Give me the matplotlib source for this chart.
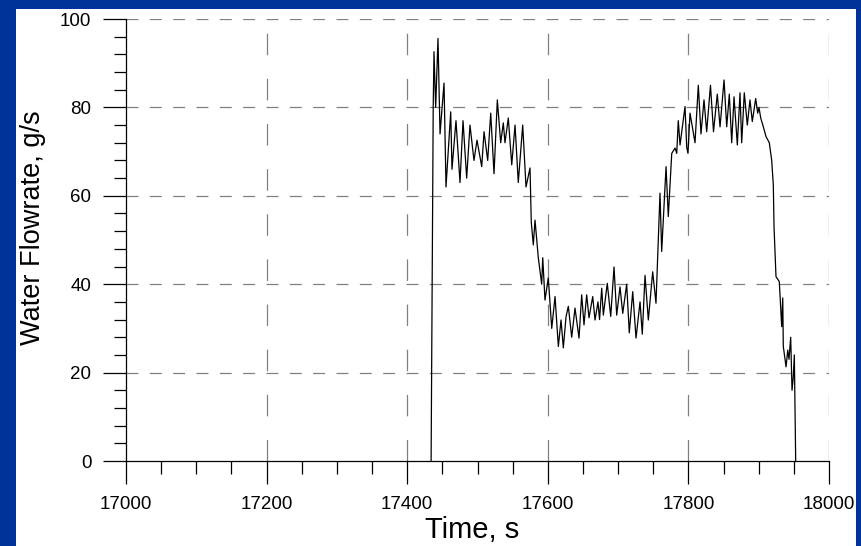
import matplotlib
matplotlib.use("Agg")
import matplotlib.pyplot as plt
from matplotlib.patches import Rectangle
from matplotlib.ticker import MultipleLocator

plt.rcParams['font.family'] = ['Liberation Sans', 'DejaVu Sans']
plt.rcParams['lines.scale_dashes'] = False

time_s = [17434, 17437, 17438.1, 17440.5, 17443.8, 17446.7, 17452.4, 17455.2, 17461.9, 17463.7,
          17469.4, 17475.1, 17479.4, 17484.6, 17489.3, 17495.0, 17499.3, 17506.0, 17509.3, 17514.5,
          17518.8, 17523.5, 17528.2, 17533.0, 17536.7, 17539.1, 17543.8, 17548.7, 17553.4, 17558.0,
          17564.3, 17569.0, 17574.7, 17575.7, 17576.5, 17579.4, 17581.8, 17586.5, 17591.3, 17592.8,
          17596.0, 17600.7, 17605.6, 17610.3, 17615.0, 17618.8, 17622.1, 17625.9, 17629.2, 17634.0,
          17638.7, 17644.4, 17648.2, 17651.5, 17655.3, 17658.6, 17663.9, 17667.2, 17671.4, 17673.6,
          17676.7, 17679.0, 17684.6, 17689.5, 17694.2, 17698.0, 17702.7, 17706.6, 17712.2, 17715.9,
          17720.8, 17725.5, 17731.2, 17734.4, 17738.3, 17743.0, 17749.2, 17753.9, 17759.6, 17762.0,
          17768.2, 17771.4, 17776.3, 17781.0, 17783.4, 17785.6, 17788.1, 17795.2, 17797.6, 17799.4,
          17802.3, 17809.4, 17814.1, 17817.9, 17822.2, 17826.0, 17831.4, 17835.7, 17841.1, 17845.0,
          17850.7, 17854.5, 17858.2, 17861.6, 17864.9, 17869.6, 17873.4, 17875.8, 17879.5, 17883.8,
          17887.6, 17890.9, 17895.7, 17898.6, 17900.4, 17902.9, 17906.6, 17910.4, 17915.1, 17918.5,
          17920.8, 17921.8, 17924.6, 17929.3, 17932.7, 17934.2, 17935.0, 17938.9, 17941.3, 17943.1,
          17945.5, 17947.4, 17949.2, 17950.7, 17951.7, 17952.6]

flow_gs = [0, 80, 92.6, 80, 95.6, 74, 85.5, 62, 79, 66,
           77, 63, 77, 64, 76, 68, 72.6, 66.6, 74.5, 68,
           78.7, 65, 81.7, 72, 76.5, 72, 77.6, 67, 76, 63,
           76, 62, 66.3, 59.8, 54, 48.9, 54.5, 46, 40, 46,
           36.4, 41.4, 30, 37.2, 25.9, 31.9, 25.6, 32.6, 35, 28,
           34.6, 27.8, 37.6, 30.8, 37.6, 32.4, 37.2, 31.9, 36, 32,
           39.1, 33, 40.2, 32.7, 43.9, 33, 39.4, 33.4, 40, 29,
           38.3, 27.8, 36, 28.7, 42, 31.9, 42.8, 35.7, 60.6, 47.4,
           66.6, 55.3, 69.6, 70.8, 69.6, 77, 71.5, 80.2, 71, 69.6,
           78.7, 72, 85, 74, 81.7, 74.5, 85, 74.5, 83, 75.6,
           86.2, 75.6, 83, 72, 82.4, 71.5, 83.3, 72, 83.3, 76,
           81.7, 76.8, 82, 78.7, 80, 77.6, 75.6, 73.4, 72, 68,
           62.4, 53, 41.7, 40.6, 30.4, 36.9, 25.9, 21.3, 25.1, 23,
           28, 16, 19, 24, 11.5, 0]

x_ticks = [17000, 17200, 17400, 17600, 17800, 18000]
y_ticks = [0, 20, 40, 60, 80, 100]

W, H = 861, 546
fig = plt.figure(figsize=(W / 100, H / 100), dpi=100)
fig.patch.set_facecolor('#003399')
bg = Rectangle((16 / W, 0), (856 - 16) / W, 1 - 9 / H,
               transform=fig.transFigure, facecolor='white',
               edgecolor='none', zorder=-10)
fig.add_artist(bg)

ax = fig.add_axes([126 / W, 1 - 461 / H, (829 - 126) / W, (461 - 19) / H])
ax.set_zorder(1)
ax.patch.set_alpha(0)
ax.set_xlim(17000, 18000)
ax.set_ylim(0, 100)

# grid
for xv in x_ticks[1:]:
    ax.plot([xv, xv], [0, 100], color='#808080', lw=0.9,
            linestyle=(0, (15.5, 17)), zorder=1)
for yv in y_ticks[1:]:
    ax.plot([17000, 18000], [yv, yv], color='#808080', lw=0.9,
            linestyle=(0, (8.6, 8.2)), zorder=1)

ax.plot(time_s, flow_gs, color='black', lw=0.9, zorder=3)

for s in ['top', 'right']:
    ax.spines[s].set_visible(False)
for s in ['left', 'bottom']:
    ax.spines[s].set_color('black')
    ax.spines[s].set_linewidth(0.9)
    ax.spines[s].set_zorder(4)

ax.set_xticks(x_ticks)
ax.set_yticks(y_ticks)
ax.xaxis.set_minor_locator(MultipleLocator(50))
ax.yaxis.set_minor_locator(MultipleLocator(4))
ax.tick_params(axis='both', which='major', direction='out', length=16.5,
               width=0.9, color='black', labelsize=13.5, labelcolor='black')
ax.tick_params(axis='x', which='major', pad=9)
ax.tick_params(axis='y', which='major', pad=8.5)
ax.tick_params(axis='both', which='minor', direction='out', length=9,
               width=0.9, color='black')

ax.set_xlabel('Time, s', fontsize=21, color='black')
ax.xaxis.set_label_coords(0.493, -0.124)
ax.set_ylabel('Water Flowrate, g/s', fontsize=19.5, color='black')
ax.yaxis.set_label_coords(-0.114, 0.527)

fig.savefig('out.png', dpi=100, facecolor=fig.get_facecolor())
